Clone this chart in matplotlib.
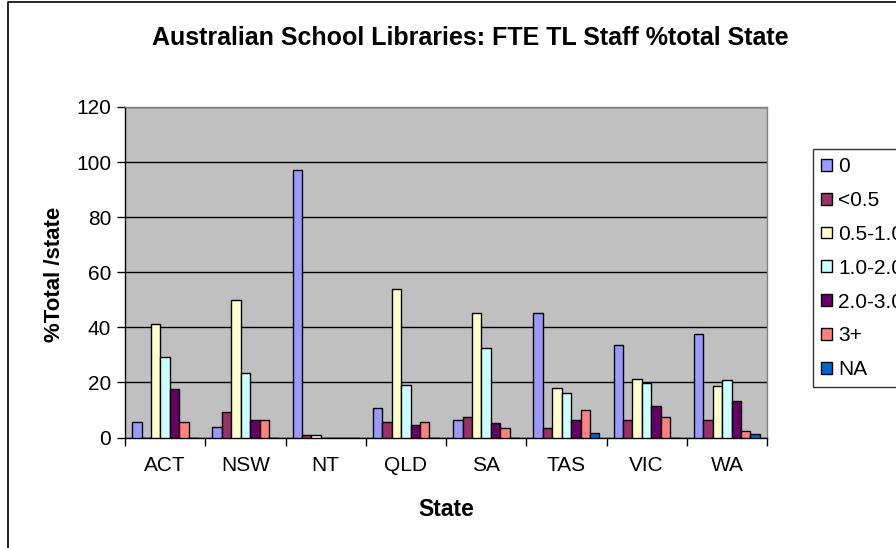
import matplotlib
matplotlib.use("Agg")
import matplotlib.pyplot as plt
from matplotlib.lines import Line2D
import numpy as np

plt.rcParams['font.family'] = ['Liberation Sans', 'DejaVu Sans']

states = ["ACT", "NSW", "NT", "QLD", "SA", "TAS", "VIC", "WA"]
series_names = ["0", "<0.5", "0.5-1.0", "1.0-2.0", "2.0-3.0", "3+", "NA"]
s_0 = [5.7, 3.9, 97.1, 10.6, 6.3, 45.3, 33.7, 37.7]
s_lt05 = [0, 9.1, 0.9, 5.7, 7.5, 3.5, 6.3, 6.3]
s_05_10 = [41.2, 49.9, 0.9, 54.0, 45.3, 18.0, 21.4, 18.7]
s_10_20 = [29.4, 23.6, 0, 19.2, 32.5, 16.2, 19.7, 20.9]
s_20_30 = [17.5, 6.3, 0, 4.5, 5.1, 6.3, 11.6, 13.4]
s_3p = [5.7, 6.3, 0, 5.7, 3.5, 9.9, 7.5, 2.3]
s_na = [0, 0, 0, 0, 0, 1.6, 0, 1.2]
series = [s_0, s_lt05, s_05_10, s_10_20, s_20_30, s_3p, s_na]
colors = ["#9999FF", "#993366", "#FFFFCC", "#CCFFFF", "#660066", "#FF8080", "#0066CC"]
yticks = [0, 20, 40, 60, 80, 100, 120]

W, H = 896, 548
fig = plt.figure(figsize=(W / 100, H / 100), dpi=100)
fig.patch.set_facecolor("white")

L, R, T, B = 125, 767, 107, 437.5
ax = fig.add_axes([L / W, 1 - B / H, (R - L) / W, (B - T) / H])
ax.set_facecolor("#C0C0C0")

n = len(series)
w = 1.0 / (n + 1.5)
x = np.arange(len(states))
for j, (vals, c, name) in enumerate(zip(series, colors, series_names)):
    ax.bar(x + (j - (n - 1) / 2) * w, vals, width=w, color=c, edgecolor="black",
           linewidth=1.0, label=name, zorder=3)

ax.set_xlim(-0.5, len(states) - 0.5)
ax.set_ylim(0, 120)
ax.set_yticks(yticks)
ax.set_yticklabels([str(v) for v in yticks], fontsize=15)
ax.yaxis.grid(True, color="black", linewidth=1.0, zorder=1)
ax.set_axisbelow(True)

ax.set_xticks(x)
ax.set_xticklabels(states, fontsize=15)
ax.set_xticks(np.arange(len(states) + 1) - 0.5, minor=True)
ax.tick_params(axis="x", which="major", length=0, pad=13)
ax.tick_params(axis="x", which="minor", length=6, width=1, color="black", direction="out")
ax.tick_params(axis="y", length=6, width=1, direction="out", pad=4)

for s in ["top", "right"]:
    ax.spines[s].set_color("#808080")
    ax.spines[s].set_linewidth(1)
for s in ["left", "bottom"]:
    ax.spines[s].set_color("black")
    ax.spines[s].set_linewidth(1)

fig.text(470 / W, 1 - 38 / H, "Australian School Libraries: FTE TL Staff %total State",
         ha="center", va="center", fontsize=18, fontweight="bold")
fig.text(446 / W, 1 - 510 / H, "State", ha="center", va="center", fontsize=16.5, fontweight="bold")
fig.text(55 / W, 1 - 274 / H, "%Total /state", ha="center", va="center", fontsize=16,
         fontweight="bold", rotation=90)

leg = fig.legend(loc="upper left", bbox_to_anchor=(813 / W, 1 - 149 / H), fontsize=15,
                 frameon=True, fancybox=False, shadow=False, handlelength=0.5,
                 handleheight=0.5, handletextpad=0.3, labelspacing=0.71,
                 borderpad=0.4, borderaxespad=0)
leg.get_frame().set_edgecolor("black")
leg.get_frame().set_linewidth(1)

# outer chart border
fig.add_artist(Line2D([8 / W, 8 / W, 1.0], [0, 1 - 2 / H, 1 - 2 / H],
                      transform=fig.transFigure, color="black", linewidth=1.2))

fig.savefig("out.png", dpi=100)
